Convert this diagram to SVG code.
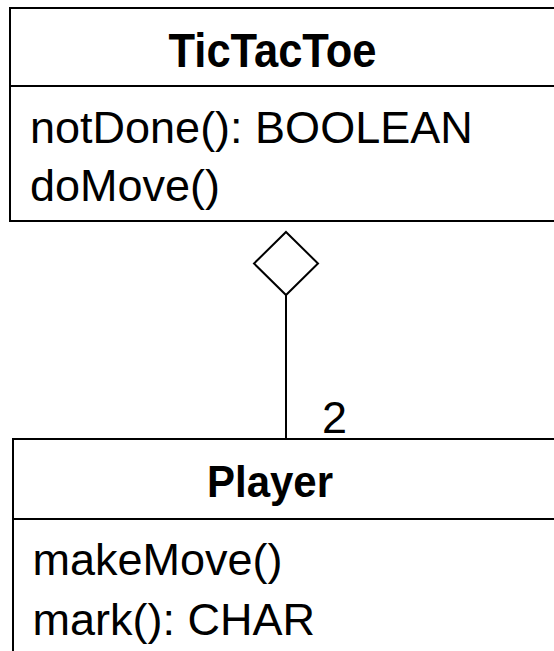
<svg xmlns="http://www.w3.org/2000/svg" width="554" height="651" viewBox="0 0 554 651">
  <style>
    .box { fill: #ffffff; stroke: #000000; stroke-width: 2; }
    .sep { stroke: #000000; stroke-width: 2; }
    .name { font-family: "Liberation Sans", Arial, Helvetica, sans-serif; font-weight: bold; text-anchor: middle; fill: #000000; }
    .op { font-family: "Liberation Sans", Arial, Helvetica, sans-serif; font-size: 45px; fill: #000000; }
    .link { fill: none; stroke: #000000; stroke-width: 2; }
  </style>
  <rect width="554" height="651" fill="#ffffff"/>

  <!-- connectors: aggregation from Player to TicTacToe -->
  <g id="connectors">
    <line class="link" x1="286" y1="295" x2="286" y2="439"/>
    <polygon class="link" fill="#ffffff" points="286,232 318,263.5 286,295 254,263.5"/>
    <text class="op" x="322" y="433">2</text>
  </g>

  <!-- class TicTacToe -->
  <g id="tictactoe">
    <rect class="box" x="10" y="8" width="560" height="213"/>
    <line class="sep" x1="10" y1="86" x2="570" y2="86"/>
    <text class="name" x="272.5" y="67" font-size="49" textLength="208" lengthAdjust="spacingAndGlyphs">TicTacToe</text>
    <text class="op" x="30" y="143">notDone(): BOOLEAN</text>
    <text class="op" x="30" y="201">doMove()</text>
  </g>

  <!-- class Player -->
  <g id="player">
    <rect class="box" x="13" y="439" width="560" height="240"/>
    <line class="sep" x1="13" y1="519" x2="573" y2="519"/>
    <text class="name" x="270" y="497" font-size="44" textLength="126" lengthAdjust="spacingAndGlyphs">Player</text>
    <text class="op" x="32.5" y="575">makeMove()</text>
    <text class="op" x="32.5" y="635">mark(): CHAR</text>
  </g>
</svg>
